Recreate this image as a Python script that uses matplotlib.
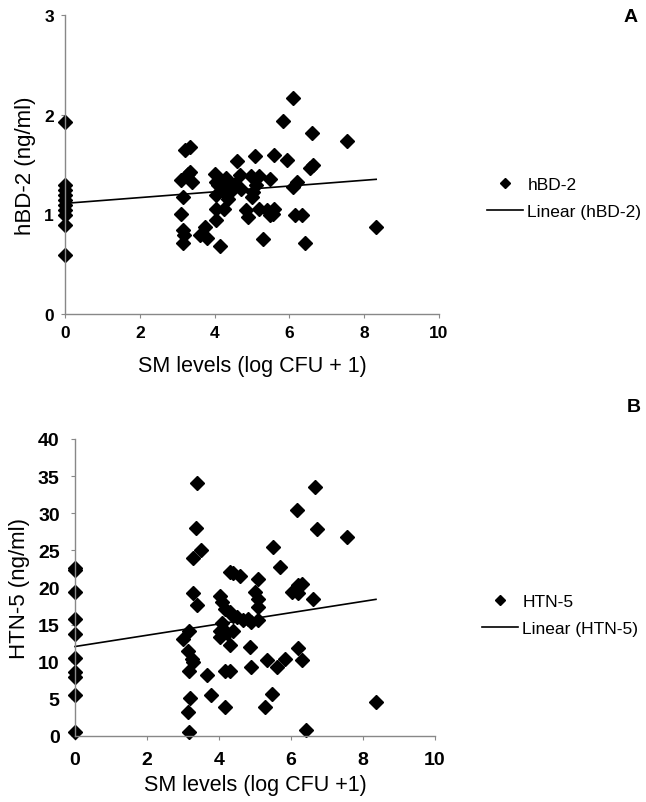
import matplotlib
matplotlib.use("Agg")
import matplotlib.pyplot as plt
import numpy as np

plt.rcParams["font.family"] = ["Liberation Sans", "DejaVu Sans"]

# Panel A: hBD-2 vs SM levels
hbd_x = [0, 0, 0, 0, 0, 0, 0, 0, 0, 0,
         3.2, 3.35, 3.35, 3.1, 3.4, 3.3, 3.15, 3.1, 3.15, 3.18, 3.15,
         3.74, 3.6, 3.79, 4.15,
         4.0, 4.05, 4.1, 4.2, 4.05, 4.3, 4.25, 4.4, 4.35, 4.05, 4.25, 4.05,
         4.59, 4.68, 5.08, 4.98, 5.2, 5.48, 5.6, 5.93, 5.83, 6.1, 6.6, 7.53,
         6.64, 6.55, 6.2, 6.1, 5.03, 5.1, 5.0, 5.2, 4.9, 4.85, 5.3, 5.4,
         5.48, 5.6, 5.55, 6.15, 6.33, 6.42, 8.32, 4.55, 4.7]
hbd_y = [1.93, 1.29, 1.24, 1.19, 1.14, 1.09, 1.04, 0.99, 0.89, 0.59,
         1.65, 1.68, 1.42, 1.34, 1.32, 1.40, 1.17, 1.00, 0.84, 0.79, 0.71,
         0.87, 0.79, 0.76, 0.68,
         1.40, 1.32, 1.29, 1.24, 1.19, 1.36, 1.29, 1.22, 1.15, 1.05, 1.05, 0.94,
         1.54, 1.39, 1.59, 1.38, 1.38, 1.35, 1.60, 1.55, 1.94, 2.17, 1.82, 1.74,
         1.49, 1.46, 1.32, 1.27, 1.22, 1.29, 1.17, 1.05, 0.97, 1.04, 0.75, 1.04,
         0.99, 1.05, 1.00, 0.99, 0.99, 0.71, 0.87, 1.30, 1.25]
hbd_trend = [1.11, 0.029]   # intercept, slope

# Panel B: HTN-5 vs SM levels
htn_x = [0, 0, 0, 0, 0, 0, 0, 0, 0, 0,
         3.38, 3.36, 3.5, 3.28, 3.27, 3.4, 3.17, 3.0, 3.14, 3.24, 3.28, 3.17,
         3.2, 3.15, 3.17, 3.66, 3.77, 4.18,
         4.03, 4.07, 4.31, 4.4, 4.58, 4.17, 4.3, 4.4, 4.5, 4.67, 4.07, 4.03,
         4.22, 4.03, 4.4, 4.3, 4.17, 4.3,
         4.86, 4.9, 5.0, 5.09, 5.09, 5.09, 4.9, 5.09, 5.32, 5.6, 5.83, 6.2,
         6.3, 5.46, 5.28, 5.5, 5.69, 6.16, 6.02, 6.2, 6.19, 6.3, 6.67, 6.71,
         7.56, 6.62, 8.36, 6.43, 4.8]
htn_y = [22.6, 22.3, 19.4, 15.8, 13.8, 10.5, 8.6, 7.9, 5.5, 0.5,
         34.1, 28.0, 25.0, 24.0, 19.2, 17.6, 14.2, 13.1, 11.5, 10.4, 10.0, 8.8,
         5.1, 3.2, 0.6, 8.25, 5.5, 3.9,
         18.9, 18.0, 22.1, 21.9, 21.6, 17.1, 16.7, 16.2, 16.0, 15.6, 15.2, 14.2,
         13.9, 13.3, 14.2, 12.2, 8.8, 8.8,
         12.0, 9.3, 19.4, 21.2, 18.5, 17.4, 15.3, 15.6, 10.2, 9.3, 10.4, 11.8,
         10.2, 5.7, 3.9, 25.4, 22.7, 30.4, 19.4, 20.3, 19.2, 20.5, 33.5, 27.9,
         26.8, 18.5, 4.6, 0.75, 15.8]
htn_trend = [12.05, 0.76]   # intercept, slope

W, H = 646, 803
fig = plt.figure(figsize=(W / 100, H / 100), dpi=100)

panels = [
    dict(x=hbd_x, y=hbd_y, trend=hbd_trend, rect=[65, 16, 439, 315],
         ylim=(0, 3), yticks=[0, 1, 2, 3], ylabel="hBD-2 (ng/ml)",
         xlabel="SM levels (log CFU + 1)", name="hBD-2", letter="A",
         letter_pos=(631, 18), leg_pos=(471, 199),
         ticksize=12.5, tickpad=5, xlabpad=11),
    dict(x=htn_x, y=htn_y, trend=htn_trend, rect=[75, 440, 435, 737],
         ylim=(0, 40), yticks=list(range(0, 41, 5)), ylabel="HTN-5 (ng/ml)",
         xlabel="SM levels (log CFU +1)", name="HTN-5", letter="B",
         letter_pos=(634, 408), leg_pos=(466, 616),
         ticksize=14, tickpad=8, xlabpad=4),
]

for p in panels:
    l, t, r, b = p["rect"]
    ax = fig.add_axes([l / W, 1 - b / H, (r - l) / W, (b - t) / H])
    x = np.array(p["x"])
    y = np.array(p["y"])
    ax.plot(x, y, linestyle="none", marker="D", markersize=7.5,
            color="black", label=p["name"])
    xx = np.array([0, x.max()])
    ax.plot(xx, p["trend"][0] + p["trend"][1] * xx, color="black",
            linewidth=1.2, label=f"Linear ({p['name']})")
    ax.set_xlim(0, 10)
    ax.set_ylim(*p["ylim"])
    ax.set_xticks([0, 2, 4, 6, 8, 10])
    ax.set_yticks(p["yticks"])
    for s in ("top", "right"):
        ax.spines[s].set_visible(False)
    for s in ("left", "bottom"):
        ax.spines[s].set_color("#888888")
        ax.spines[s].set_linewidth(1.0)
    ax.tick_params(direction="out", length=3, color="#888888",
                   labelsize=p["ticksize"], pad=p["tickpad"])
    for lab in ax.get_xticklabels() + ax.get_yticklabels():
        lab.set_fontweight("bold")
    ax.set_xlabel(p["xlabel"], fontsize=15.5, labelpad=p["xlabpad"])
    ax.set_ylabel(p["ylabel"], fontsize=16, labelpad=6)
    for art in ax.lines:
        art.set_clip_on(False)
    lx, ly = p["leg_pos"]
    ax.legend(loc="center left", bbox_to_anchor=(lx / W, 1 - ly / H),
              bbox_transform=fig.transFigure, frameon=False, fontsize=12.5,
              markerscale=0.65, handlelength=2.1, handletextpad=0.25,
              labelspacing=0.7)
    fx, fy = p["letter_pos"]
    fig.text(fx / W, 1 - fy / H, p["letter"], fontsize=14, fontweight="bold",
             ha="center", va="center")

fig.savefig("out.png", dpi=100)
